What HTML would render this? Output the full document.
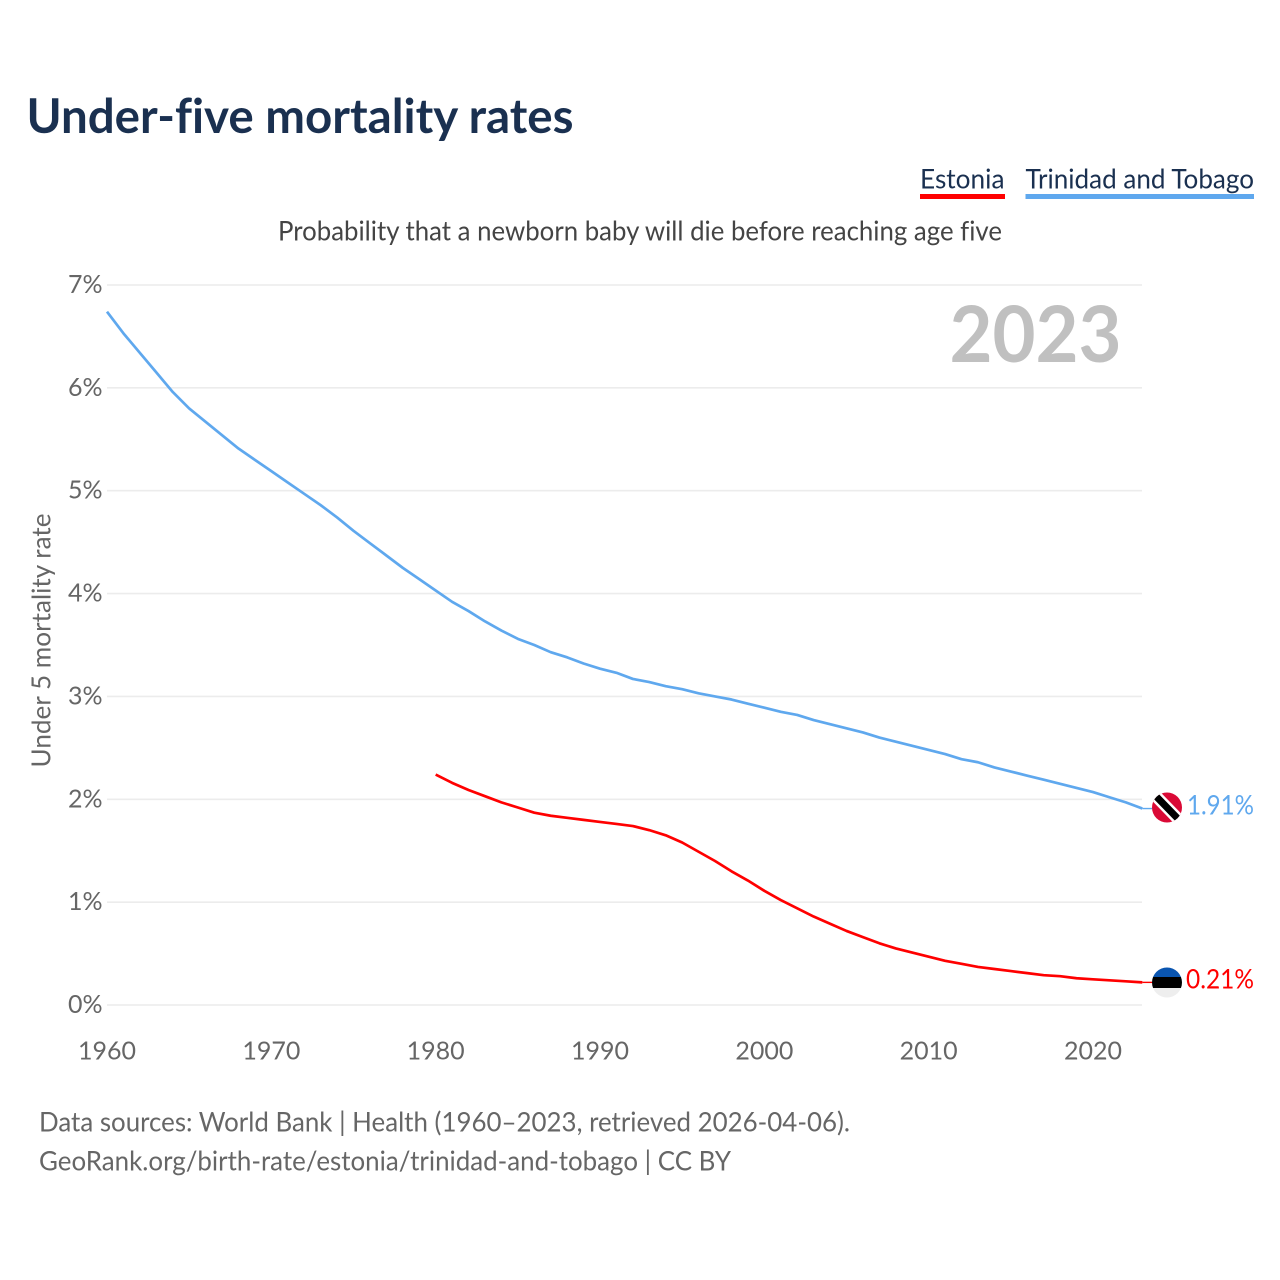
<!DOCTYPE html>
<html lang="en">
<head>
<meta charset="utf-8">
<title>Under-five mortality rates</title>
<style>
html,body{margin:0;padding:0;background:#fff;width:1280px;height:1280px;overflow:hidden}
svg{display:block}
text{font-family:"Lato","Carlito","Liberation Sans",sans-serif;font-variant-ligatures:none;font-feature-settings:"liga" 0}
</style>
</head>
<body>
<svg id="chart" width="1280" height="1280" viewBox="0 0 1280 1280" xmlns="http://www.w3.org/2000/svg">
  <text x="26.500" y="133" font-size="48" font-weight="700" fill="#1a3050" textLength="547" lengthAdjust="spacingAndGlyphs">Under-five mortality rates</text>

  <g>
    <g>
      <text x="920" y="188.500" font-size="27" fill="#1a3050" textLength="84.500" lengthAdjust="spacingAndGlyphs">Estonia</text>
      <rect x="920" y="194" width="85" height="5" fill="#ff0000"/>
    </g>
    <g>
      <text x="1025.500" y="188.500" font-size="27" fill="#1a3050" textLength="228.500" lengthAdjust="spacingAndGlyphs">Trinidad and Tobago</text>
      <rect x="1025.500" y="194" width="228.500" height="5" fill="#5fa8ee"/>
    </g>
  </g>

  <text x="278" y="240.500" font-size="27" fill="#444" textLength="724" lengthAdjust="spacingAndGlyphs">Probability that a newborn baby will die before reaching age five</text>
  <text transform="translate(50.500,767.500) rotate(-90)" font-size="26.500" fill="#666" textLength="254" lengthAdjust="spacingAndGlyphs">Under 5 mortality rate</text>

  <g id="grid"></g>
  <g id="yticks"></g>
  <g id="xticks"></g>

  <text x="949.500" y="362" font-size="78" font-weight="700" fill="#c0c0c0" textLength="172" lengthAdjust="spacingAndGlyphs">2023</text>

  <g id="series"></g>

  <defs>
    <clipPath id="flag-tt-clip"><circle cx="1167" cy="807.500" r="15"/></clipPath>
    <clipPath id="flag-ee-clip"><circle cx="1167" cy="982.500" r="15"/></clipPath>
  </defs>
  <g clip-path="url(#flag-tt-clip)">
    <rect x="1150" y="790" width="34" height="36" fill="#da0a36"/>
    <line x1="1150" y1="790" x2="1184" y2="825" stroke="#fff" stroke-width="12"/>
    <line x1="1150" y1="790" x2="1184" y2="825" stroke="#000" stroke-width="7"/>
  </g>
  <g clip-path="url(#flag-ee-clip)">
    <rect x="1150" y="966" width="34" height="11" fill="#0a55b0"/>
    <rect x="1150" y="977" width="34" height="11" fill="#000"/>
    <rect x="1150" y="988" width="34" height="11" fill="#eeeeee"/>
  </g>
  <text x="1187" y="814.500" font-size="27" fill="#5fa8ee" textLength="67" lengthAdjust="spacingAndGlyphs">1.91%</text>
  <text x="1186" y="988.500" font-size="27" fill="#ff0000" textLength="68" lengthAdjust="spacingAndGlyphs">0.21%</text>

  <g>
    <text x="39" y="1131.500" font-size="27" fill="#666" textLength="811" lengthAdjust="spacingAndGlyphs">Data sources: World Bank | Health (1960–2023, retrieved 2026-04-06).</text>
    <text x="39" y="1170.500" font-size="27" fill="#666" textLength="692" lengthAdjust="spacingAndGlyphs">GeoRank.org/birth-rate/estonia/trinidad-and-tobago | CC BY</text>
  </g>
</svg>
<script>
const yTickValues = [0, 1, 2, 3, 4, 5, 6, 7];
const xTickValues = [1960, 1970, 1980, 1990, 2000, 2010, 2020];
const trinidadStartYear = 1960;
const trinidadValues = [6.74, 6.53, 6.34, 6.15, 5.96, 5.80, 5.67, 5.54, 5.41, 5.30, 5.19, 5.08, 4.97, 4.86, 4.74, 4.61, 4.49, 4.37, 4.25, 4.14, 4.03, 3.92, 3.83, 3.73, 3.64, 3.56, 3.50, 3.43, 3.38, 3.32, 3.27, 3.23, 3.17, 3.14, 3.10, 3.07, 3.03, 3.00, 2.97, 2.93, 2.89, 2.85, 2.82, 2.77, 2.73, 2.69, 2.65, 2.60, 2.56, 2.52, 2.48, 2.44, 2.39, 2.36, 2.31, 2.27, 2.23, 2.19, 2.15, 2.11, 2.07, 2.02, 1.97, 1.91];
const estoniaStartYear = 1980;
const estoniaValues = [2.24, 2.16, 2.09, 2.03, 1.97, 1.92, 1.87, 1.84, 1.82, 1.80, 1.78, 1.76, 1.74, 1.70, 1.65, 1.58, 1.49, 1.40, 1.30, 1.21, 1.11, 1.02, 0.94, 0.86, 0.79, 0.72, 0.66, 0.60, 0.55, 0.51, 0.47, 0.43, 0.40, 0.37, 0.35, 0.33, 0.31, 0.29, 0.28, 0.26, 0.25, 0.24, 0.23, 0.22];

const NS = 'http://www.w3.org/2000/svg';
const xScale = function (year) { return 107 + (year - 1960) * (1093 - 107) / 60; };
const yScale = function (value) { return 1005 - value * (1005 - 285) / 7; };

function makeSvg(tag, attrs, text) {
  const el = document.createElementNS(NS, tag);
  Object.keys(attrs).forEach(function (key) { el.setAttribute(key, attrs[key]); });
  if (text !== undefined) { el.textContent = text; }
  return el;
}

const gridGroup = document.getElementById('grid');
const yTickGroup = document.getElementById('yticks');
const xTickGroup = document.getElementById('xticks');
const seriesGroup = document.getElementById('series');

yTickValues.forEach(function (value) {
  const line = makeSvg('line', { x1: 107, x2: 1142, y1: yScale(value), y2: yScale(value), stroke: '#ececec', 'stroke-width': 1.6 });
  
  
  gridGroup.appendChild(line);
  const label = makeSvg('text', { x: 102.5, y: yScale(value) + 8, 'text-anchor': 'end', 'font-size': 25, fill: '#666' }, value + '%');
  
  
  yTickGroup.appendChild(label);
});

xTickValues.forEach(function (year) {
  const label = makeSvg('text', { x: xScale(year), y: 1059.5, 'text-anchor': 'middle', 'font-size': 25, fill: '#666' }, String(year));
  
  
  xTickGroup.appendChild(label);
});

function seriesPath(startYear, values) {
  return values.map(function (value, i) {
    return (i === 0 ? 'M' : 'L') + xScale(startYear + i).toFixed(2) + ' ' + yScale(value).toFixed(2);
  }).join(' ');
}

function lastPoint(startYear, values) {
  return { x: xScale(startYear + values.length - 1), y: yScale(values[values.length - 1]) };
}

const trinidadLine = makeSvg('path', { d: seriesPath(trinidadStartYear, trinidadValues), fill: 'none', stroke: '#5fa8ee', 'stroke-width': 2.7, 'stroke-linejoin': 'round' });


seriesGroup.appendChild(trinidadLine);

const estoniaLine = makeSvg('path', { d: seriesPath(estoniaStartYear, estoniaValues), fill: 'none', stroke: '#ff0000', 'stroke-width': 2.7, 'stroke-linejoin': 'round' });


seriesGroup.appendChild(estoniaLine);

const trinidadEnd = lastPoint(trinidadStartYear, trinidadValues);
const trinidadConnector = makeSvg('line', { x1: trinidadEnd.x, y1: trinidadEnd.y, x2: trinidadEnd.x + 10, y2: trinidadEnd.y, stroke: '#5fa8ee', 'stroke-width': 1.4 });


seriesGroup.appendChild(trinidadConnector);

const estoniaEnd = lastPoint(estoniaStartYear, estoniaValues);
const estoniaConnector = makeSvg('line', { x1: estoniaEnd.x, y1: estoniaEnd.y, x2: estoniaEnd.x + 10, y2: estoniaEnd.y, stroke: '#ff0000', 'stroke-width': 1.4 });


seriesGroup.appendChild(estoniaConnector);
</script>
</body>
</html>
